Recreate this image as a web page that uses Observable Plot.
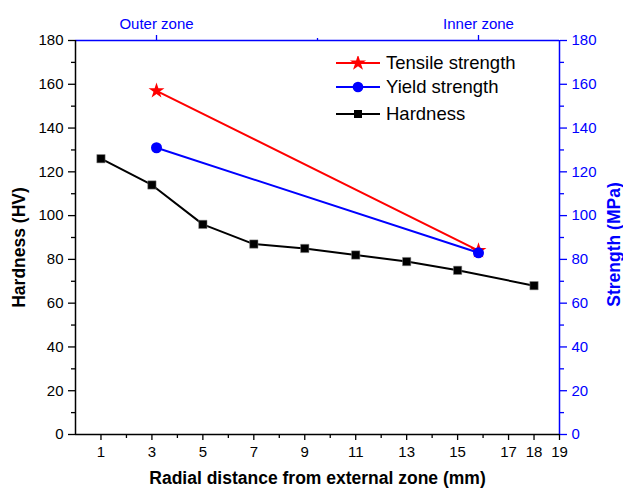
<!DOCTYPE html>
<html>
<head>
<meta charset="utf-8">
<script src="https://cdn.jsdelivr.net/npm/d3@7"></script>
<script src="https://cdn.jsdelivr.net/npm/@observablehq/plot@0.6"></script>
<style>
  body { margin: 0; background: #fff; }
  #wrap { position: relative; width: 623px; height: 495px; font-family: "Liberation Sans", Arial, sans-serif; }
  #legend { position: absolute; left: 335px; top: 51px; font-size: 18.5px; color: #000; }
  #legend .row { display: flex; align-items: center; height: 24px; }
  #legend svg { margin-right: 5px; }
</style>
</head>
<body>
<div id="wrap"></div>
<script>
// Hardness series (left axis)
const hardnessX = [1, 3, 5, 7, 9, 11, 13, 15, 18];
const hardnessY = [126, 114, 96, 87, 85, 82, 79, 75, 68];
// Strength series (right axis, same 0-180 range)
const zoneX = [3.18, 15.82];
const zoneLabels = ["Outer zone", "Inner zone"];
const tensileY = [157, 84];
const yieldY = [131, 83];
// Axis ticks
const xMajor = [1, 3, 5, 7, 9, 11, 13, 15, 17, 18, 19];
const xMinor = [2, 4, 6, 8, 10, 12, 14, 16];
const yMajor = [0, 20, 40, 60, 80, 100, 120, 140, 160, 180];
const yMinor = [10, 30, 50, 70, 90, 110, 130, 150, 170];
const topMinor = [9.5];

const blue = "#0000ff", red = "#ff0000", black = "#000000";
const hardness = hardnessX.map((x, i) => ({x, y: hardnessY[i]}));
const tensile = zoneX.map((x, i) => ({x, y: tensileY[i]}));
const yieldS = zoneX.map((x, i) => ({x, y: yieldY[i]}));
const none = () => "";
const fs = 15;

const chart = Plot.plot({
  width: 623,
  height: 495,
  marginLeft: 75,
  marginRight: 64,
  marginTop: 40,
  marginBottom: 61,
  style: {fontFamily: "Liberation Sans, Arial, sans-serif", background: "white"},
  x: {domain: [0, 19]},
  y: {domain: [0, 180]},
  marks: [
    // bottom axis
    Plot.axisX({ticks: xMajor, tickSize: 6, tickPadding: 6, label: null, color: black, strokeWidth: 1.3, fontSize: fs}),
    Plot.axisX({ticks: xMinor, tickSize: 4, tickFormat: none, label: null, strokeWidth: 1.3}),
    // top axis
    Plot.axisX({anchor: "top", ticks: zoneX, tickSize: 6, tickPadding: 6, tickFormat: (d, i) => zoneLabels[i], label: null, color: blue, strokeWidth: 1.3, fontSize: fs}),
    Plot.axisX({anchor: "top", ticks: topMinor, tickSize: 3, tickFormat: none, label: null, color: blue, strokeWidth: 1.3}),
    // left axis
    Plot.axisY({ticks: yMajor, tickSize: 7, tickPadding: 5, label: null, color: black, strokeWidth: 1.3, fontSize: fs}),
    Plot.axisY({ticks: yMinor, tickSize: 4, tickFormat: none, label: null, strokeWidth: 1.3}),
    // right axis
    Plot.axisY({anchor: "right", ticks: yMajor, tickSize: 7, tickPadding: 5, label: null, color: blue, strokeWidth: 1.3, fontSize: fs}),
    Plot.axisY({anchor: "right", ticks: yMinor, tickSize: 4, tickFormat: none, label: null, color: blue, strokeWidth: 1.3}),
    // frame lines
    Plot.ruleY([180], {stroke: blue, strokeWidth: 1.5}),
    Plot.ruleX([19], {stroke: blue, strokeWidth: 1.5}),
    Plot.ruleY([0], {stroke: black, strokeWidth: 1.5}),
    Plot.ruleX([0], {stroke: black, strokeWidth: 1.5}),
    // axis titles
    Plot.text(["Radial distance from external zone (mm)"], {frameAnchor: "bottom", dy: 49, fontWeight: "bold", fontSize: 17.5, fill: black}),
    Plot.text(["Hardness (HV)"], {frameAnchor: "left", textAnchor: "middle", dx: -56, dy: 10, rotate: -90, fontWeight: "bold", fontSize: 17.5, fill: black}),
    Plot.text(["Strength (MPa)"], {frameAnchor: "right", textAnchor: "middle", dx: 55, dy: 7, rotate: -90, fontWeight: "bold", fontSize: 17.5, fill: blue}),
    // series
    Plot.line(hardness, {x: "x", y: "y", stroke: black, strokeWidth: 2}),
    Plot.dot(hardness, {x: "x", y: "y", symbol: "square", r: 4.7, fill: black, stroke: "#888", strokeWidth: 0.5}),
    Plot.line(tensile, {x: "x", y: "y", stroke: red, strokeWidth: 2}),
    Plot.dot(tensile, {x: "x", y: "y", symbol: "star", r: 5, fill: red}),
    Plot.line(yieldS, {x: "x", y: "y", stroke: blue, strokeWidth: 2}),
    Plot.dot(yieldS, {x: "x", y: "y", symbol: "circle", r: 5.5, fill: blue})
  ]
});

const wrap = document.getElementById("wrap");
wrap.appendChild(chart);

// legend
const legendItems = [
  {label: "Tensile strength", color: red, symbol: d3.symbolStar, size: 80},
  {label: "Yield strength", color: blue, symbol: d3.symbolCircle, size: 90},
  {label: "Hardness", color: black, symbol: d3.symbolSquare, size: 64}
];
const legend = document.createElement("div");
legend.id = "legend";
legendItems.forEach((it, i) => {
  const row = document.createElement("div");
  row.className = "row";
  if (i === 2) row.style.marginTop = "3px";
  const path = d3.symbol(it.symbol, it.size)();
  row.innerHTML = `<svg width="46" height="14"><line x1="1" x2="45" y1="7" y2="7" stroke="${it.color}" stroke-width="2"/><path d="${path}" transform="translate(23,7)" fill="${it.color}"/></svg><span>${it.label}</span>`;
  legend.appendChild(row);
});
wrap.appendChild(legend);
</script>
</body>
</html>
